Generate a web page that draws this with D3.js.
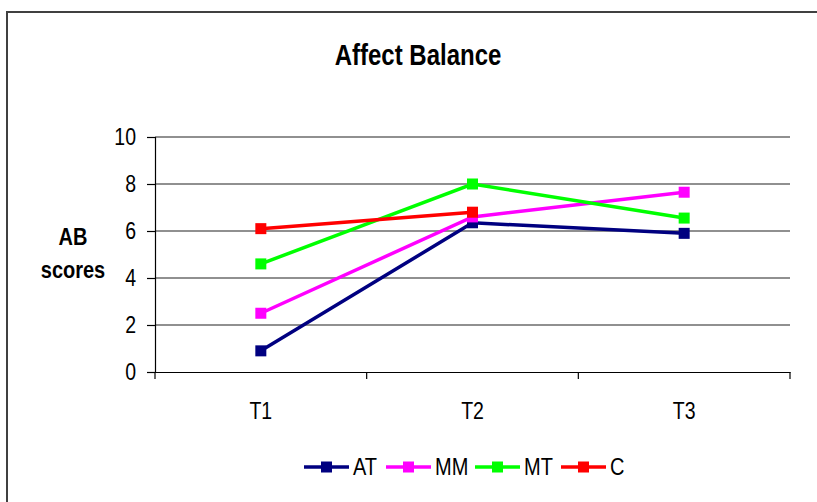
<!DOCTYPE html>
<html>
<head>
<meta charset="utf-8">
<script src="https://cdn.jsdelivr.net/npm/d3@7"></script>
<style>
  body { margin: 0; background: #fff; }
  text { font-family: "Liberation Sans", Arial, sans-serif; fill: #000; }
</style>
</head>
<body>
<div id="chart"></div>
<script>
var categories = ["T1", "T2", "T3"];
var seriesNames = ["AT", "MM", "MT", "C"];
var seriesColors = ["#000080", "#ff00ff", "#00ff00", "#ff0000"];
var valuesAT = [0.9, 6.35, 5.9];
var valuesMM = [2.5, 6.6, 7.65];
var valuesMT = [4.6, 8.0, 6.55];
var valuesC = [6.1, 6.8, null];
var yTicks = [0, 2, 4, 6, 8, 10];

(function() {
    var width = 817, height = 502;
    var plotLeft = 155, plotRight = 790, plotTop = 137, plotBottom = 372;
    var stretch = 1.22;

    var svg = d3.select("#chart").append("svg")
        .attr("width", width)
        .attr("height", height);

    // outer frame
    svg.append("rect")
        .attr("x", 7).attr("y", 12)
        .attr("width", 830).attr("height", 520)
        .attr("fill", "none")
        .attr("stroke", "#404040")
        .attr("stroke-width", 2);

    var x = d3.scaleBand().domain(categories).range([plotLeft, plotRight]);
    var y = d3.scaleLinear().domain([0, 10]).range([plotBottom, plotTop]);

    // text helper, slightly tall like the original
    function label(px, py, str, size, bold, anchor) {
        return svg.append("text")
            .attr("transform", "translate(" + px + "," + py + ") scale(1," + stretch + ")")
            .attr("text-anchor", anchor || "middle")
            .style("font-size", size + "px")
            .style("font-weight", bold ? "bold" : "normal")
            .text(str);
    }

    // gridlines
    svg.append("g")
        .selectAll("line")
        .data(yTicks.filter(function(d) { return d > 0; }))
        .enter().append("line")
        .attr("x1", plotLeft).attr("x2", plotRight)
        .attr("y1", function(d) { return y(d); })
        .attr("y2", function(d) { return y(d); })
        .attr("stroke", "#222")
        .attr("stroke-width", 1.2);

    // y axis
    var yAxis = svg.append("g")
        .attr("transform", "translate(" + plotLeft + ",0)")
        .call(d3.axisLeft(y).tickValues(yTicks).tickSize(8).tickFormat(""));
    yAxis.select(".domain").attr("stroke", "#000").attr("stroke-width", 1.2);
    yAxis.selectAll(".tick line").attr("stroke", "#000").attr("stroke-width", 1.2);
    yTicks.forEach(function(t) {
        label(136, y(t) + 8, t, 19.5, false, "end");
    });

    // x axis
    var xAxis = svg.append("g")
        .attr("transform", "translate(0," + plotBottom + ")")
        .call(d3.axisBottom(x).tickSize(0).tickFormat(""));
    xAxis.select(".domain").attr("stroke", "#000").attr("stroke-width", 1.2);
    categories.forEach(function(c) {
        label(x(c) + x.bandwidth() / 2, 419, c, 19.5, false);
    });
    // category separators
    svg.append("g")
        .selectAll("line")
        .data(categories.concat(["end"]))
        .enter().append("line")
        .attr("x1", function(d, i) { return i < categories.length ? x(d) : plotRight; })
        .attr("x2", function(d, i) { return i < categories.length ? x(d) : plotRight; })
        .attr("y1", plotBottom)
        .attr("y2", plotBottom + 7)
        .attr("stroke", "#000")
        .attr("stroke-width", 1.2);

    // series
    var allValues = [valuesAT, valuesMM, valuesMT, valuesC];
    var cx = function(i) { return x(categories[i]) + x.bandwidth() / 2; };
    var line = d3.line()
        .defined(function(d) { return d != null; })
        .x(function(d, i) { return cx(i); })
        .y(function(d) { return y(d); });

    allValues.forEach(function(vals, s) {
        svg.append("path")
            .attr("d", line(vals))
            .attr("fill", "none")
            .attr("stroke", seriesColors[s])
            .attr("stroke-width", 3.5);
        svg.append("g")
            .selectAll("rect")
            .data(vals.map(function(v, i) { return {v: v, i: i}; }).filter(function(d) { return d.v != null; }))
            .enter().append("rect")
            .attr("x", function(d) { return cx(d.i) - 5.5; })
            .attr("y", function(d) { return y(d.v) - 5.5; })
            .attr("width", 11).attr("height", 11)
            .attr("fill", seriesColors[s]);
    });

    // title
    label(418, 65, "Affect Balance", 24, true);

    // y label
    label(73, 245, "AB", 20, true);
    label(73, 278, "scores", 20, true);

    // legend
    var legendX = [304, 386, 475, 561];
    seriesNames.forEach(function(name, s) {
        var g = svg.append("g").attr("transform", "translate(" + legendX[s] + ",467)");
        g.append("line").attr("x1", 0).attr("x2", 45).attr("y1", 0).attr("y2", 0)
            .attr("stroke", seriesColors[s]).attr("stroke-width", 3.5);
        g.append("rect").attr("x", 17).attr("y", -5.5).attr("width", 11).attr("height", 11)
            .attr("fill", seriesColors[s]);
        label(legendX[s] + 49, 475, name, 20, false, "start");
    });
})();
</script>
</body>
</html>
